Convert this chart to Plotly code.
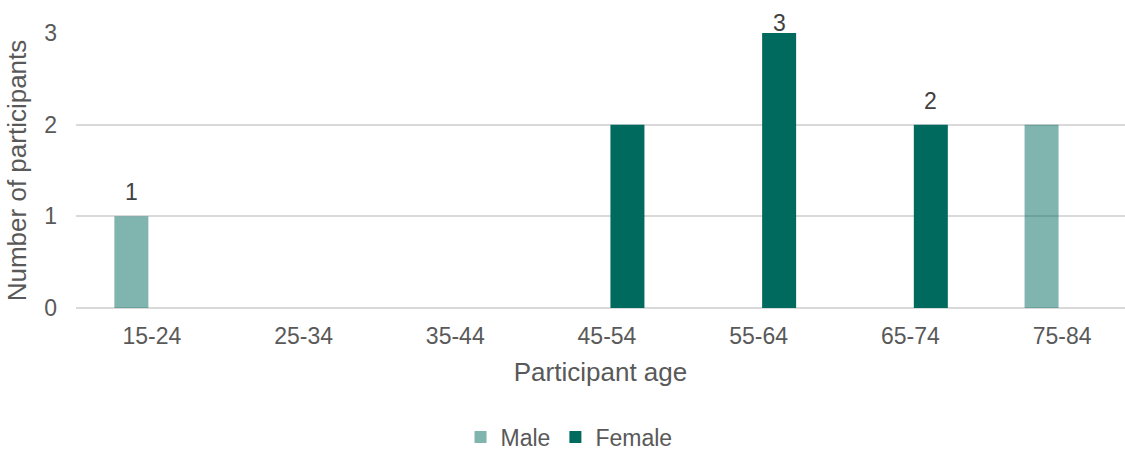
import plotly.graph_objects as go

# Participant counts by age band and gender
age_bands = ["15-24", "25-34", "35-44", "45-54", "55-64", "65-74", "75-84"]
male = [1, 0, 0, 0, 0, 0, 2]
female = [0, 0, 0, 2, 3, 2, 0]
# Which bars carry a value label
male_labelled = [True, False, False, False, False, False, False]
female_labelled = [False, False, False, False, True, True, False]

FONT = "Liberation Sans, Arial, sans-serif"
TEAL = "#006a5f"
TEAL_LIGHT = "rgba(0,106,95,0.5)"

W, H = 1125, 452
M_L, M_R, M_T, M_B = 76, 0, 33, 144
Y_MAX = 3
plot_h = H - M_T - M_B
cat_w = 151.7
x_hi = -0.5 + (W - M_L - M_R) / cat_w

bargap = 0.46
bargroupgap = 0.17
slot = (1 - bargap) / 2  # width of one group slot in category units

fig = go.Figure()
fig.add_trace(go.Bar(name="Male", x=age_bands, y=male, marker_color=TEAL_LIGHT,
                     marker_line_width=0))
fig.add_trace(go.Bar(name="Female", x=age_bands, y=female, marker_color=TEAL,
                     marker_line_width=0))

# Value labels above the labelled bars, kept inside the chart area
annotations = []
for vals, flags, side in ((male, male_labelled, -1), (female, female_labelled, 1)):
    for i, (v, f) in enumerate(zip(vals, flags)):
        if not f:
            continue
        top_px = M_T + (Y_MAX - v) / Y_MAX * plot_h
        centre_px = max(top_px - 24, 23)
        annotations.append(dict(
            x=i + side * slot / 2, y=v, xref="x", yref="y",
            text=str(v), showarrow=False, yanchor="middle",
            yshift=top_px - centre_px,
            font=dict(family=FONT, size=23, color="#404040"),
        ))

# Legend centre in paper coordinates (pixel row 437)
legend_y = -(437 - (H - M_B)) / plot_h

fig.update_layout(
    width=W, height=H,
    margin=dict(l=M_L, r=M_R, t=M_T, b=M_B, pad=0, autoexpand=False),
    paper_bgcolor="white", plot_bgcolor="white",
    barmode="group", bargap=bargap, bargroupgap=bargroupgap,
    font=dict(family=FONT, color="#595959"),
    annotations=annotations,
    legend=dict(orientation="h", x=0.470, xref="paper", xanchor="center",
                y=legend_y, yanchor="middle", bgcolor="rgba(0,0,0,0)",
                font=dict(family=FONT, size=23, color="#595959"),
                itemwidth=30, tracegroupgap=0),
    xaxis=dict(
        type="category", range=[-0.5, x_hi],
        showgrid=False, showline=False, zeroline=False,
        ticks="", ticklabelstandoff=12,
        tickfont=dict(family=FONT, size=23, color="#595959"),
        title=dict(text="Participant age", standoff=14,
                   font=dict(family=FONT, size=26, color="#595959")),
    ),
    yaxis=dict(
        range=[0, Y_MAX], dtick=1, tick0=0,
        showgrid=True, gridcolor="#d9d9d9", gridwidth=2,
        zeroline=True, zerolinecolor="#d9d9d9", zerolinewidth=2,
        showline=False, ticks="", ticklabelstandoff=18,
        tickfont=dict(family=FONT, size=23, color="#595959"),
        title=dict(text="Number of participants", standoff=10,
                   font=dict(family=FONT, size=26, color="#595959")),
    ),
)

fig.write_html("out.html")
